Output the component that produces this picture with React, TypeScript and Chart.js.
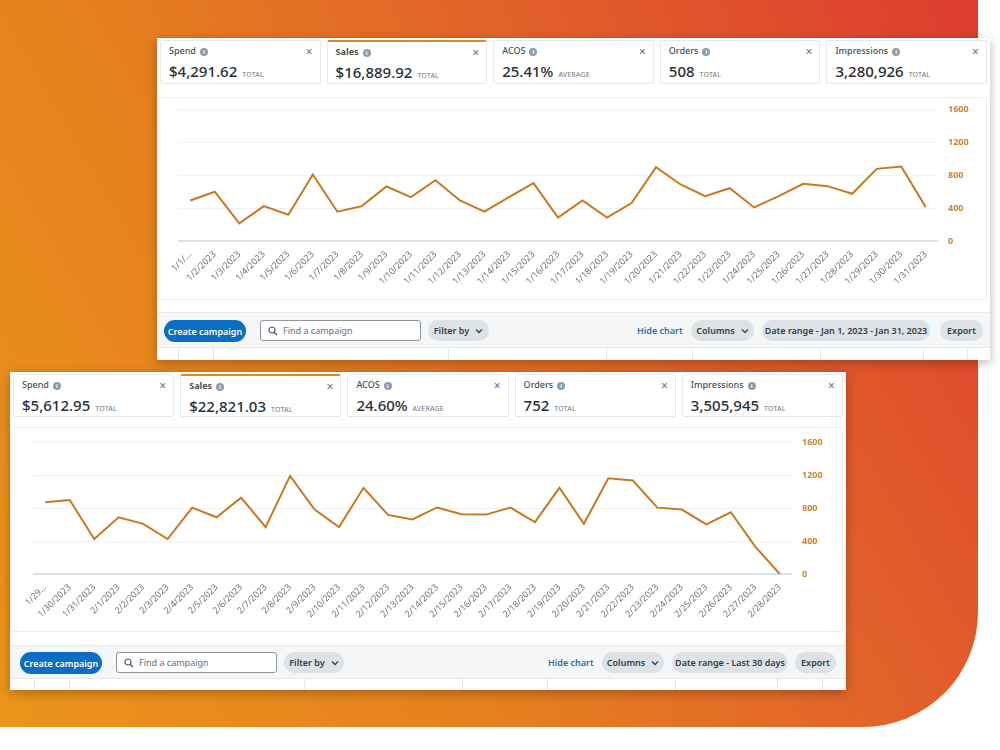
import React, { useEffect, useRef } from "react";
import { Chart, registerables } from "chart.js";
Chart.register(...registerables);

const janLabels = ["1/1/2023","1/2/2023","1/3/2023","1/4/2023","1/5/2023","1/6/2023","1/7/2023","1/8/2023","1/9/2023","1/10/2023","1/11/2023","1/12/2023","1/13/2023","1/14/2023","1/15/2023","1/16/2023","1/17/2023","1/18/2023","1/19/2023","1/20/2023","1/21/2023","1/22/2023","1/23/2023","1/24/2023","1/25/2023","1/26/2023","1/27/2023","1/28/2023","1/29/2023","1/30/2023","1/31/2023"];
const janSales = [493,599,215,424,320,808,356,424,663,533,739,493,356,533,703,284,493,284,461,897,687,545,642,408,545,695,667,574,877,905,412];

const febLabels = ["1/29/2023","1/30/2023","1/31/2023","2/1/2023","2/2/2023","2/3/2023","2/4/2023","2/5/2023","2/6/2023","2/7/2023","2/8/2023","2/9/2023","2/10/2023","2/11/2023","2/12/2023","2/13/2023","2/14/2023","2/15/2023","2/16/2023","2/17/2023","2/18/2023","2/19/2023","2/20/2023","2/21/2023","2/22/2023","2/23/2023","2/24/2023","2/25/2023","2/26/2023","2/27/2023","2/28/2023"];
const febSales = [871,899,425,690,610,425,807,690,928,570,1193,783,570,1048,718,663,809,727,722,807,630,1048,610,1164,1137,807,783,603,751,333,0];

const yTicks = [0, 400, 800, 1200, 1600];

const metricNames = ["Spend", "Sales", "ACOS", "Orders", "Impressions"];
const metricKinds = ["TOTAL", "TOTAL", "AVERAGE", "TOTAL", "TOTAL"];
const janMetricValues = ["$4,291.62", "$16,889.92", "25.41%", "508", "3,280,926"];
const febMetricValues = ["$5,612.95", "$22,821.03", "24.60%", "752", "3,505,945"];

const janDateRange = "Date range - Jan 1, 2023 - Jan 31, 2023";
const febDateRange = "Date range - Last 30 days";

const FONT = "'Noto Sans', 'Open Sans', sans-serif";
const LINE = "#c8781f";

type ChartProps = {
  labels: string[];
  values: number[];
  left: number; top: number; width: number; height: number;
  padLeft: number; padTop: number; yAxisW: number; xAxisH: number;
};

function SalesChart(p: ChartProps) {
  const ref = useRef<HTMLCanvasElement | null>(null);
  useEffect(() => {
    if (!ref.current) return;
    const chart = new Chart(ref.current, {
      type: "line",
      data: {
        labels: p.labels,
        datasets: [{ data: p.values, borderColor: LINE, borderWidth: 2, pointRadius: 0, tension: 0, fill: false }],
      },
      options: {
        animation: false,
        responsive: false,
        maintainAspectRatio: false,
        layout: { padding: { left: p.padLeft, top: p.padTop, right: 0, bottom: 0 } },
        plugins: { legend: { display: false }, tooltip: { enabled: false } },
        scales: {
          x: {
            offset: true,
            grid: { display: false },
            border: { display: false },
            ticks: {
              autoSkip: false,
              minRotation: 45,
              maxRotation: 45,
              padding: 0,
              color: "#707478",
              font: { family: FONT, size: 9 },
              callback: (_v: any, i: number) => (i === 0 ? p.labels[i].slice(0, 4) + "..." : p.labels[i]),
            },
            afterFit: (a: any) => { a.height = p.xAxisH; },
          },
          y: {
            position: "right",
            min: yTicks[0],
            max: yTicks[yTicks.length - 1],
            afterBuildTicks: (a: any) => { a.ticks = yTicks.map((v) => ({ value: v })); },
            ticks: {
              padding: 10,
              color: "#c8862f",
              font: { family: FONT, size: 9, weight: "bold" },
              callback: (v: any) => String(v),
            },
            grid: {
              drawTicks: false,
              color: (c: any) => (c.tick && c.tick.value === 0 ? "#d8e0e8" : "#eff1f3"),
              lineWidth: (c: any) => (c.tick && c.tick.value === 0 ? 2 : 1),
            },
            border: { display: false },
            afterFit: (a: any) => { a.width = p.yAxisW; },
          },
        },
      },
    } as any);
    return () => chart.destroy();
  }, []);
  return (
    <canvas
      ref={ref}
      width={p.width}
      height={p.height}
      style={{ position: "absolute", left: p.left, top: p.top, width: p.width, height: p.height }}
    />
  );
}

function Chevron() {
  return (
    <svg width="8" height="6" viewBox="0 0 8 6" style={{ marginLeft: 6 }}>
      <polyline points="1,1.5 4,4.5 7,1.5" fill="none" stroke="#3a4552" strokeWidth="1.4" />
    </svg>
  );
}

function InfoIcon() {
  return (
    <span style={{
      display: "inline-block", width: 8, height: 8, borderRadius: 4, background: "#8d9cae",
      color: "#fff", fontSize: 6, lineHeight: "8px", textAlign: "center", marginLeft: 4, fontWeight: 700,
      verticalAlign: "middle",
    }}>i</span>
  );
}

function MetricCard(props: { name: string; value: string; kind: string; left: number; top: number; width: number; height: number; selected: boolean }) {
  return (
    <div style={{
      position: "absolute", left: props.left, top: props.top, width: props.width, height: props.height,
      background: "#fff", border: "1px solid #e6e8ea", borderTop: props.selected ? "2px solid #d98b26" : "1px solid #e6e8ea",
      boxSizing: "border-box", borderRadius: 2,
    }}>
      <div style={{ position: "absolute", left: 8, top: 3, fontSize: 9, color: "#4a5058", fontWeight: props.selected ? 700 : 500 }}>
        {props.name}<InfoIcon />
      </div>
      <div style={{ position: "absolute", right: 7, top: 2, fontSize: 12, color: "#6a6f75" }}>×</div>
      <div style={{ position: "absolute", left: 8, top: 19, whiteSpace: "nowrap" }}>
        <span style={{ fontSize: 15, color: "#2a2f35", fontWeight: 500 }}>{props.value}</span>
        <span style={{ fontSize: 7, color: "#6f747a", marginLeft: 5, letterSpacing: 0.2 }}>{props.kind}</span>
      </div>
    </div>
  );
}

function Pill(props: { left: number; top: number; width: number; text: string; chevron?: boolean }) {
  return (
    <div style={{
      position: "absolute", left: props.left, top: props.top, width: props.width, height: 21,
      background: "#dde2e6", borderRadius: 11, display: "flex", alignItems: "center", justifyContent: "center",
      fontSize: 9, color: "#333d47", fontWeight: 600, whiteSpace: "nowrap",
    }}>
      {props.text}{props.chevron ? <Chevron /> : null}
    </div>
  );
}

type PanelProps = {
  left: number; top: number; width: number; height: number;
  values: string[];
  cardH: number; cardGap: number; cardPad: number;
  chartBoxTop: number; chartBoxH: number;
  toolbarTop: number; toolbarH: number;
  btn: { create: number; search: number; filter: number; filterW: number; hide: number; columns: number; columnsW: number; date: number; dateW: number; exp: number; expW: number; y: number };
  dateText: string;
  cols: number[];
  chart: ChartProps;
};

function Panel(p: PanelProps) {
  const cardW = (p.width - p.cardPad * 2 - p.cardGap * 4) / 5;
  return (
    <div style={{
      position: "absolute", left: p.left, top: p.top, width: p.width, height: p.height,
      background: "#fff", boxShadow: "0 3px 10px rgba(0,0,0,0.28)", fontFamily: FONT, overflow: "hidden",
    }}>
      {metricNames.map((n, i) => (
        <MetricCard key={n} name={n} value={p.values[i]} kind={metricKinds[i]}
          left={p.cardPad + i * (cardW + p.cardGap)} top={2} width={cardW} height={p.cardH} selected={i === 1} />
      ))}
      <div style={{
        position: "absolute", left: 1, top: p.chartBoxTop, width: p.width - 4, height: p.chartBoxH,
        border: "1px solid #eceef0", boxSizing: "border-box",
      }} />
      <SalesChart {...p.chart} />
      <div style={{
        position: "absolute", left: 0, top: p.toolbarTop, width: p.width, height: p.toolbarH,
        background: "#f5f6f7", borderTop: "1px solid #e6e8ea", borderBottom: "1px solid #e6e8ea", boxSizing: "border-box",
      }} />
      <div style={{
        position: "absolute", left: p.btn.create, top: p.btn.y, width: 82, height: 22, borderRadius: 11,
        background: "#0b6ec5", color: "#fff", fontSize: 9, fontWeight: 600, display: "flex",
        alignItems: "center", justifyContent: "center",
      }}>Create campaign</div>
      <div style={{
        position: "absolute", left: p.btn.search, top: p.btn.y, width: 161, height: 21, borderRadius: 3,
        background: "#fff", border: "1px solid #8e959c", boxSizing: "border-box", display: "flex", alignItems: "center",
      }}>
        <svg width="10" height="10" viewBox="0 0 10 10" style={{ marginLeft: 7 }}>
          <circle cx="4" cy="4" r="3" fill="none" stroke="#505860" strokeWidth="1.2" />
          <line x1="6.2" y1="6.2" x2="9" y2="9" stroke="#505860" strokeWidth="1.3" />
        </svg>
        <span style={{ fontSize: 9, color: "#6a7077", marginLeft: 5 }}>Find a campaign</span>
      </div>
      <Pill left={p.btn.filter} top={p.btn.y} width={p.btn.filterW} text="Filter by" chevron />
      <div style={{
        position: "absolute", left: p.btn.hide, top: p.btn.y, height: 21, display: "flex", alignItems: "center",
        fontSize: 9, color: "#2f6da3", fontWeight: 600,
      }}>Hide chart</div>
      <Pill left={p.btn.columns} top={p.btn.y} width={p.btn.columnsW} text="Columns" chevron />
      <Pill left={p.btn.date} top={p.btn.y} width={p.btn.dateW} text={p.dateText} />
      <Pill left={p.btn.exp} top={p.btn.y} width={p.btn.expW} text="Export" />
      {p.cols.map((x, i) => (
        <div key={i} style={{
          position: "absolute", left: x, top: p.toolbarTop + p.toolbarH, width: 1,
          height: p.height - p.toolbarTop - p.toolbarH, background: "#e4e6e8",
        }} />
      ))}
    </div>
  );
}

export default function App() {
  useEffect(() => {
    document.body.style.margin = "0";
  }, []);
  return (
    <div style={{ position: "fixed", left: 0, top: 0, width: 1000, height: 750, overflow: "hidden", background: "#fff" }}>
      <div style={{
        position: "absolute", left: 0, top: 0, width: 978, height: 727, borderBottomRightRadius: 115,
        background: "linear-gradient(60deg, #ea951b 0%, #e6801e 35%, #e2622a 65%, #dd3c2f 100%)",
      }} />
      <Panel
        left={157} top={38} width={833} height={322}
        values={janMetricValues}
        cardH={44} cardGap={6} cardPad={3}
        chartBoxTop={59} chartBoxH={203}
        toolbarTop={274} toolbarH={36}
        btn={{ create: 7, search: 103, filter: 271, filterW: 61, hide: 480, columns: 534, columnsW: 63, date: 605, dateW: 168, exp: 783, expW: 43, y: 282 }}
        dateText={janDateRange}
        cols={[21, 56, 291, 449, 535, 663, 766, 810]}
        chart={{ labels: janLabels, values: janSales, left: 3, top: 56, width: 826, height: 206, padLeft: 18, padTop: 7, yAxisW: 48, xAxisH: 59 }}
      />
      <Panel
        left={10} top={372} width={836} height={318}
        values={febMetricValues}
        cardH={43} cardGap={6} cardPad={3}
        chartBoxTop={55} chartBoxH={205}
        toolbarTop={273} toolbarH={34}
        btn={{ create: 10, search: 106, filter: 274, filterW: 60, hide: 538, columns: 592, columnsW: 62, date: 662, dateW: 116, exp: 785, expW: 41, y: 280 }}
        dateText={febDateRange}
        cols={[24, 59, 294, 452, 537, 665, 767, 812]}
        chart={{ labels: febLabels, values: febSales, left: 3, top: 55, width: 830, height: 209, padLeft: 20, padTop: 13, yAxisW: 51, xAxisH: 62 }}
      />
    </div>
  );
}
